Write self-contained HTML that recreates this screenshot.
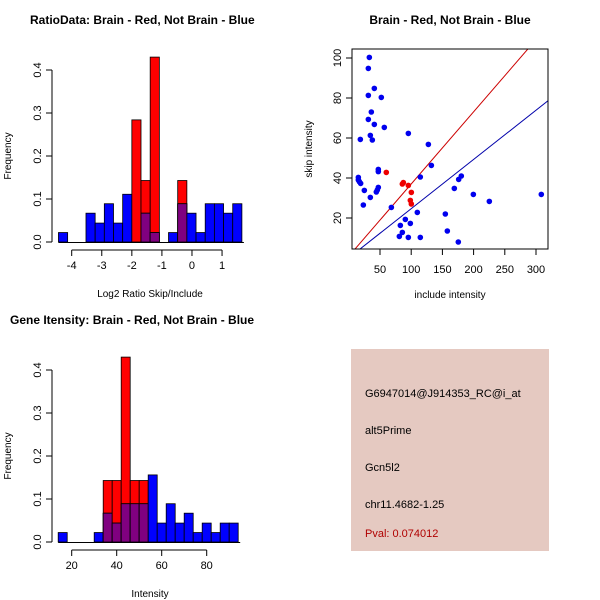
<!DOCTYPE html>
<html><head><meta charset="utf-8"><style>
html,body{margin:0;padding:0;background:#fff;}
svg{display:block;font-family:"Liberation Sans",sans-serif;}
</style></head><body>
<svg id="s" width="600" height="600" viewBox="0 0 600 600">
<rect width="600" height="600" fill="#fff"/>
<g id="p1"></g>
<g id="p2"></g>
<g id="p3"></g>
<g id="p4">
<rect x="351" y="349" width="198" height="202" fill="#e5c9c1"/>
<text x="365" y="397" font-size="11">G6947014@J914353_RC@i_at</text>
<text x="365" y="434" font-size="11">alt5Prime</text>
<text x="365" y="471" font-size="11">Gcn5l2</text>
<text x="365" y="508" font-size="11">chr11.4682-1.25</text>
<text x="365" y="537" font-size="11" fill="#b00000">Pval: 0.074012</text>
</g>
</svg>
<script>
// Histogram 1 data: log2 ratio
const h1Start = -4.44;
const h1Width = 0.305;
const h1Red = [0,0,0,0,0,0,0,0,0.284,0.143,0.43,0,0,0.143,0,0,0,0,0,0];
const h1Blue = [0.022,0,0,0.067,0.044,0.089,0.044,0.111,0,0.067,0.022,0,0.022,0.089,0.067,0.022,0.089,0.089,0.067,0.089];
const h1XTicks = [-4,-3,-2,-1,0,1];
const hYTicks = [0,0.1,0.2,0.3,0.4];
// Histogram 2 data: intensity
const h2Start = 14;
const h2Width = 4;
const h2Red = [0,0,0,0,0,0.143,0.143,0.43,0.143,0.143,0,0,0,0,0,0,0,0,0,0];
const h2Blue = [0.022,0,0,0,0.022,0.067,0.044,0.089,0.089,0.089,0.156,0.044,0.089,0.044,0.067,0.022,0.044,0.022,0.044,0.044];
const h2XTicks = [20,40,60,80];
// Scatter data
const blueX = [32.9,31.3,40.9,31.3,52.1,36.1,31.3,40.9,56.9,18.5,34.5,37.7,95.4,127.5,132.3,47.3,47.3,15.3,114.6,15.3,16.9,19,47.3,45.7,44.1,24.9,34.5,23.3,68.2,176.1,180.3,169.1,199.6,225.2,308.5,109.8,154.7,90.6,82.6,98.6,85.8,81,95.4,114.6,157.9,175.5];
const blueY = [100.3,94.8,84.8,81.3,80.3,73,69.3,66.8,65.3,59.3,61.3,59,62.3,56.8,46.3,44.3,43.2,40.3,40.5,39,38.2,37.3,35.3,34,33,33.8,30.3,26.5,25.3,39.3,41,34.8,31.8,28.3,31.8,22.8,22,19.3,16.3,17.3,12.8,10.8,10.3,10.3,13.5,8];
const redX = [60.1,85.8,87.4,95.4,100.2,98.6,100.2];
const redY = [42.8,37,37.7,36.3,32.8,28.8,27];
const redLine = [0.9,0.361];
const blueLine = [0.07,0.246];
const sXTicks = [50,100,150,200,250,300];
const sYTicks = [20,40,60,80,100];

const NS='http://www.w3.org/2000/svg';
function mk(parent,tag,attrs,txt){const e=document.createElementNS(NS,tag);for(const k in attrs)e.setAttribute(k,attrs[k]);if(txt!==undefined)e.textContent=txt;parent.appendChild(e);return e;}

function hist(g,x0,y0,title,start,w,red,blue,xt,sx,xlab){
  const sy=v=>y0-v*430;
  mk(g,'text',{x:x0===0?30:10,y:y0-218,'font-size':12,'font-weight':'bold'},title);
  for(let i=0;i<red.length;i++){
    const a=sx(start+i*w),b=sx(start+(i+1)*w);
    const r=red[i],bl=blue[i],m=Math.min(r,bl);
    if(r>0){const e=mk(g,'rect',{x:a,y:sy(r),width:b-a,height:sy(0)-sy(r),fill:'#ff0000',stroke:'#000','stroke-width':0.8});
      
      }
    if(bl>0){const e=mk(g,'rect',{x:a,y:sy(bl),width:b-a,height:sy(0)-sy(bl),fill:'#0000ff',stroke:'#000','stroke-width':0.8});
      
      }
    if(m>0){const e=mk(g,'rect',{x:a,y:sy(m),width:b-a,height:sy(0)-sy(m),fill:'#800080',stroke:'#000','stroke-width':0.8});
      
      }
  }
  mk(g,'line',{x1:sx(start),x2:sx(start+red.length*w)+2,y1:y0+0.5,y2:y0+0.5,stroke:'#000'});
  mk(g,'line',{x1:52,x2:52,y1:sy(0),y2:sy(0.4),stroke:'#000'});
  hYTicks.forEach(t=>{mk(g,'line',{x1:46,x2:52,y1:sy(t),y2:sy(t),stroke:'#000'});
    const tx=mk(g,'text',{x:0,y:0,'font-size':11,'text-anchor':'middle',transform:`translate(41,${sy(t)}) rotate(-90)`},t.toFixed(1));
    });
  const yl=mk(g,'text',{x:0,y:0,'font-size':10,'text-anchor':'middle',transform:`translate(11,${sy(0.2)}) rotate(-90)`},'Frequency');
  
  mk(g,'line',{x1:sx(xt[0]),x2:sx(xt[xt.length-1]),y1:y0+8,y2:y0+8,stroke:'#000'});
  xt.forEach(t=>{mk(g,'line',{x1:sx(t),x2:sx(t),y1:y0+8,y2:y0+14,stroke:'#000'});
    const tx=mk(g,'text',{x:sx(t),y:y0+27,'font-size':11,'text-anchor':'middle'},t);
    });
  const xl=mk(g,'text',{x:150,y:y0+55,'font-size':10,'text-anchor':'middle'},xlab);
  
}
hist(document.getElementById('p1'),0,242,'RatioData: Brain - Red, Not Brain - Blue',h1Start,h1Width,h1Red,h1Blue,h1XTicks,x=>71.7+(x+4)*30.07,'Log2 Ratio Skip/Include');
hist(document.getElementById('p3'),1,542,'Gene Itensity: Brain - Red, Not Brain - Blue',h2Start,h2Width,h2Red,h2Blue,h2XTicks,x=>71.7+(x-20)*2.25,'Intensity');

(function(){
  const g=document.getElementById('p2');
  const sx=x=>348.8+0.624*x, sy=y=>258-2*y;
  mk(g,'text',{x:450,y:24,'font-size':12,'font-weight':'bold','text-anchor':'middle'},'Brain - Red, Not Brain - Blue');
  const cp=mk(g,'clipPath',{id:'cp'});mk(cp,'rect',{x:352,y:49,width:196,height:200});
  const lg=mk(g,'g',{'clip-path':'url(#cp)'});
  const l1=mk(lg,'line',{x1:sx(0),y1:sy(redLine[0]),x2:sx(320),y2:sy(redLine[0]+redLine[1]*320),stroke:'#cc0000','stroke-width':1});
  
  const l2=mk(lg,'line',{x1:sx(0),y1:sy(blueLine[0]),x2:sx(320),y2:sy(blueLine[0]+blueLine[1]*320),stroke:'#0000aa','stroke-width':1});
  
  blueX.forEach((x,i)=>{const c=mk(g,'circle',{cx:sx(x),cy:sy(blueY[i]),r:2.8,fill:'#0000ee'});
    
    });
  redX.forEach((x,i)=>{const c=mk(g,'circle',{cx:sx(x),cy:sy(redY[i]),r:2.8,fill:'#ee0000'});
    
    });
  mk(g,'rect',{x:352,y:49,width:196,height:200,fill:'none',stroke:'#000'});
  sXTicks.forEach(t=>{mk(g,'line',{x1:sx(t),x2:sx(t),y1:249,y2:255,stroke:'#000'});
    mk(g,'text',{x:sx(t),y:273,'font-size':11,'text-anchor':'middle'},t);});
  sYTicks.forEach(t=>{mk(g,'line',{x1:346,x2:352,y1:sy(t),y2:sy(t),stroke:'#000'});
    mk(g,'text',{x:0,y:0,'font-size':11,'text-anchor':'middle',transform:`translate(341,${sy(t)}) rotate(-90)`},t);});
  mk(g,'text',{x:450,y:298,'font-size':10,'text-anchor':'middle'},'include intensity');
  mk(g,'text',{x:0,y:0,'font-size':10,'text-anchor':'middle',transform:'translate(312,149) rotate(-90)'},'skip intensity');
})();
</script>
</body></html>
